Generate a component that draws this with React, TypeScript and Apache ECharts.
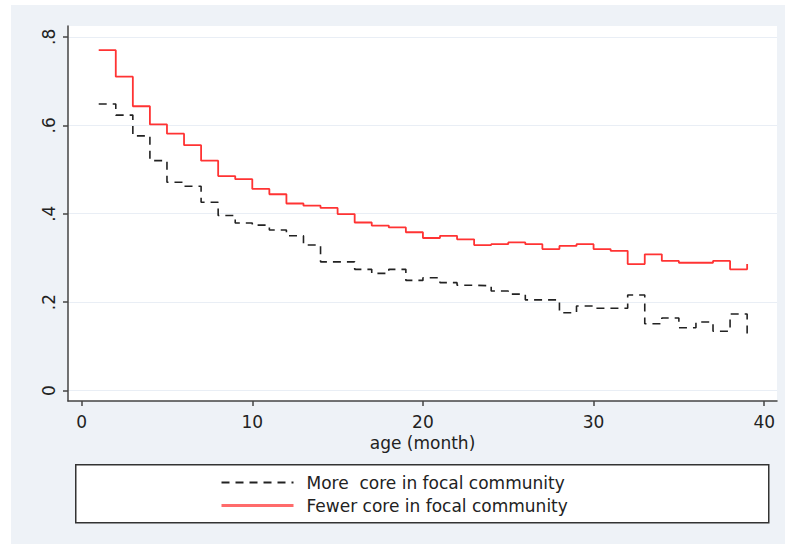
import React, { useEffect, useRef } from "react";
import * as echarts from "echarts";

const months = [
  1, 2, 3, 4, 5, 6, 7, 8, 9, 10, 11, 12, 13, 14, 15, 16, 17, 18, 19, 20,
  21, 22, 23, 24, 25, 26, 27, 28, 29, 30, 31, 32, 33, 34, 35, 36, 37, 38, 39,
];
const moreCore = [
  0.648, 0.623, 0.576, 0.52, 0.471, 0.462, 0.426, 0.396, 0.379, 0.374,
  0.363, 0.35, 0.329, 0.291, 0.291, 0.274, 0.265, 0.274, 0.249, 0.255,
  0.244, 0.238, 0.237, 0.225, 0.218, 0.205, 0.205, 0.176, 0.191, 0.186,
  0.186, 0.216, 0.151, 0.164, 0.142, 0.155, 0.134, 0.173, 0.119,
];
const fewerCore = [
  0.77, 0.71, 0.643, 0.602, 0.581, 0.555, 0.52, 0.485, 0.478, 0.456,
  0.444, 0.423, 0.418, 0.413, 0.399, 0.38, 0.373, 0.369, 0.358, 0.345,
  0.35, 0.342, 0.329, 0.331, 0.335, 0.331, 0.32, 0.327, 0.331, 0.32,
  0.316, 0.286, 0.308, 0.293, 0.289, 0.289, 0.293, 0.274, 0.286,
];
const xTicks = [0, 10, 20, 30, 40];
const yTicks = [0, 0.2, 0.4, 0.6, 0.8];
const seriesNames = ["More  core in focal community", "Fewer core in focal community"];
const xAxisTitle = "age (month)";

export default function App() {
  const ref = useRef<HTMLDivElement>(null);
  useEffect(() => {
    const chart = echarts.init(ref.current as HTMLDivElement, null, { renderer: "svg" });
    const font = "DejaVu Sans";
    const axisColor = "#444";
    chart.setOption({
      animation: false,
      textStyle: { fontFamily: font },
      grid: {
        left: 68,
        right: 8,
        top: 26,
        bottom: 143,
        show: true,
        backgroundColor: "#ffffff",
        borderWidth: 0,
      },
      xAxis: {
        type: "value",
        min: -0.8,
        max: 40.75,
        name: xAxisTitle,
        nameLocation: "middle",
        nameGap: 32,
        nameTextStyle: { fontSize: 17, color: "#222", fontFamily: font },
        axisLine: { show: true, onZero: false, lineStyle: { color: axisColor, width: 1.5 } },
        axisTick: { show: true, length: 5, customValues: xTicks, lineStyle: { color: axisColor, width: 1.5 } },
        axisLabel: { customValues: xTicks, fontSize: 17, color: "#222", margin: 12, fontFamily: font },
        splitLine: { show: false },
      },
      yAxis: {
        type: "value",
        min: -0.0238,
        max: 0.8246,
        axisLine: { show: true, onZero: false, lineStyle: { color: axisColor, width: 1.5 } },
        axisTick: { show: true, length: 5, customValues: yTicks, lineStyle: { color: axisColor, width: 1.5 } },
        axisLabel: {
          customValues: yTicks,
          rotate: 90,
          fontSize: 17,
          color: "#222",
          margin: 11,
          fontFamily: font,
          formatter: (v: number) => (Math.abs(v) < 1e-9 ? "0" : "." + Math.round(v * 10)),
        },
        splitLine: { show: true, lineStyle: { color: "#e9eef5", width: 1 } },
      },
      legend: {
        orient: "vertical",
        left: 220,
        top: 474,
        padding: 0,
        itemWidth: 72,
        itemHeight: 14,
        itemGap: 6,
        itemStyle: { opacity: 0, borderWidth: 0 },
        textStyle: { fontSize: 17, color: "#222", fontFamily: font, lineHeight: 14, padding: [0, 0, 0, 8] },
        data: [
          { name: seriesNames[0] },
          { name: seriesNames[1], lineStyle: { width: 3, color: "#ff6b6b" } },
        ],
      },
      graphic: [
        {
          type: "rect",
          left: 75,
          top: 464,
          z: 1,
          shape: { width: 693, height: 58 },
          style: { fill: "#ffffff", stroke: "#333", lineWidth: 1.5 },
        },
      ],
      series: [
        {
          name: seriesNames[0],
          type: "line",
          step: "end",
          symbol: "none",
          data: months.map((m, i) => [m, moreCore[i]]),
          lineStyle: { color: "#222", width: 1.6, type: [8, 6] },
          itemStyle: { color: "#222" },
        },
        {
          name: seriesNames[1],
          type: "line",
          step: "end",
          symbol: "none",
          data: months.map((m, i) => [m, fewerCore[i]]),
          lineStyle: { color: "#ff3333", width: 1.8 },
          itemStyle: { color: "#ff3333" },
        },
      ],
    });
    return () => chart.dispose();
  }, []);
  return (
    <div style={{ position: "fixed", left: 0, top: 0, width: 785, height: 544, background: "#ffffff" }}>
      <div style={{ position: "absolute", left: 11, top: 5, width: 774, height: 539, background: "#eef2f7" }} />
      <div ref={ref} style={{ position: "absolute", left: 0, top: 0, width: 785, height: 544 }} />
    </div>
  );
}
